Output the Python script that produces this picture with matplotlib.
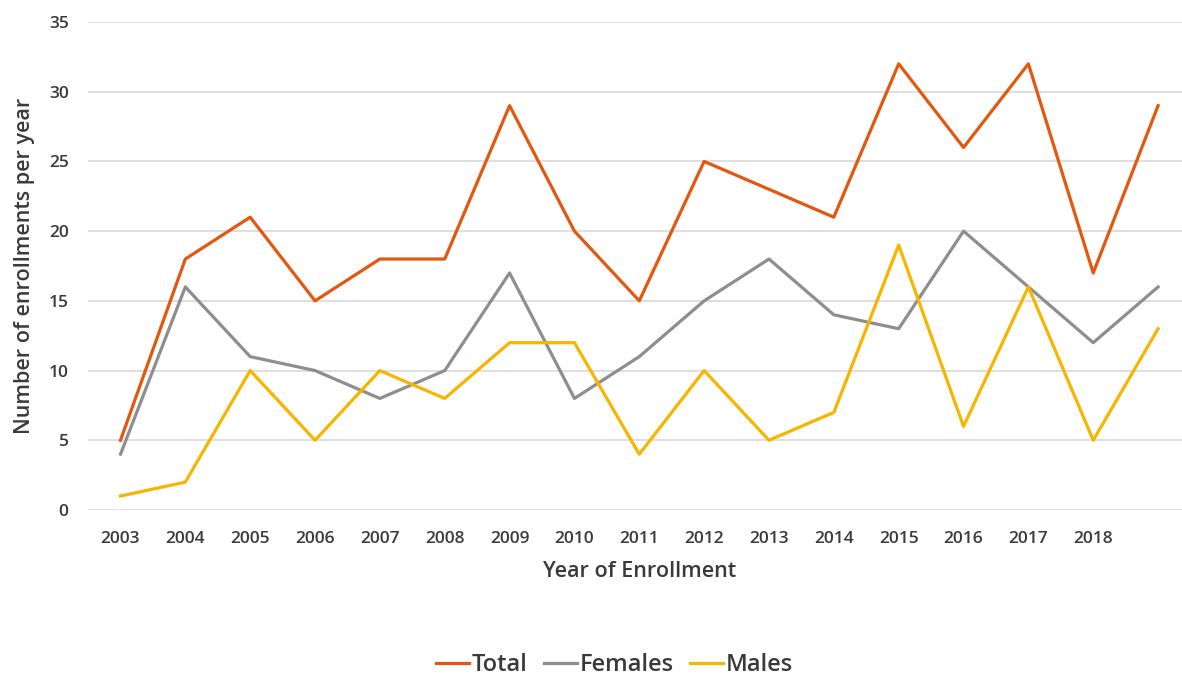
import matplotlib.pyplot as plt

# enrollment counts per year
years = ['2003', '2004', '2005', '2006', '2007', '2008', '2009', '2010', '2011',
         '2012', '2013', '2014', '2015', '2016', '2017', '2018', '']
total = [5, 18, 21, 15, 18, 18, 29, 20, 15, 25, 23, 21, 32, 26, 32, 17, 29]
females = [4, 16, 11, 10, 8, 10, 17, 8, 11, 15, 18, 14, 13, 20, 16, 12, 16]
males = [1, 2, 10, 5, 10, 8, 12, 12, 4, 10, 5, 7, 19, 6, 16, 5, 13]

plt.rcParams['font.family'] = ['Open Sans', 'DejaVu Sans']
text_color = '#3a3a3a'

fig = plt.figure(figsize=(11.82, 6.77), dpi=100)
ax = fig.add_axes([0.0745, 0.2467, 0.9327, 0.7208])

x = range(len(years))
ax.plot(x, total, color='#E4570F', lw=2.3, label='Total')
ax.plot(x, females, color='#8E8E8E', lw=2.3, label='Females')
ax.plot(x, males, color='#F7B500', lw=2.3, label='Males')

ax.set_xlim(-0.5, len(years) - 0.5)
ax.set_ylim(0, 35)
ax.set_yticks(range(0, 36, 5))
ax.set_xticks(list(x))
ax.set_xticklabels(years)
ax.grid(axis='y', color='#d9d9d9', lw=1.2)
ax.set_axisbelow(True)
for s in ax.spines.values():
    s.set_visible(False)
ax.tick_params(length=0, labelsize=12.5, labelcolor=text_color)
ax.tick_params(axis='x', pad=15)
ax.tick_params(axis='y', pad=14)
for lbl in ax.get_xticklabels() + ax.get_yticklabels():
    lbl.set_fontweight('semibold')

ax.set_xlabel('Year of Enrollment', fontsize=15.5, color=text_color,
              fontweight='semibold', labelpad=10)
ax.set_ylabel('Number of enrollments per year', fontsize=15.5, color=text_color,
              fontweight='semibold')
ax.yaxis.set_label_coords(-0.0485, 0.5)

leg = fig.legend(loc='center', bbox_to_anchor=(0.52, 0.018), ncol=3, frameon=False,
                 handlelength=1.4, handletextpad=0.1, columnspacing=0.7,
                 prop={'size': 17, 'weight': 'semibold'})
for t in leg.get_texts():
    t.set_color(text_color)

fig.savefig('out.png', dpi=100)
